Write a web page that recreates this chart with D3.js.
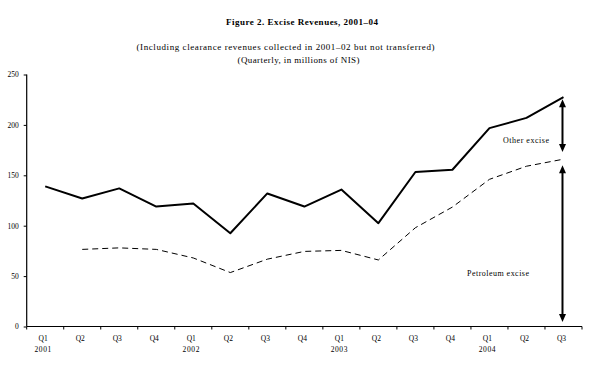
<!DOCTYPE html>
<html><head><meta charset="utf-8">
<script src="https://cdn.jsdelivr.net/npm/d3@7/dist/d3.min.js"></script>
<style>
body{margin:0;background:#fff;}
svg{display:block;font-family:"Liberation Serif","Times New Roman",serif;}
</style></head>
<body>
<svg id="c" width="600" height="373"></svg>
<script>
const quarters = ["Q1","Q2","Q3","Q4","Q1","Q2","Q3","Q4","Q1","Q2","Q3","Q4","Q1","Q2","Q3"];
const years = ["2001","","","","2002","","","","2003","","","","2004","",""];
const totalExcise = [139,127,137,119,122,92.5,132,119,135.8,102.5,153.3,155.5,196.8,207,227.5];
const petroleumExcise = [null,76.5,78,76.5,68,53.5,66.8,74.5,75.5,66,98,118.5,146,159,166];
const yTicks = [0,50,100,150,200,250];
const arrowSpans = [[225.5,173],[160,4.5]];
const seriesLabels = ["Other excise","Petroleum excise"];

const svg = d3.select("#c");
const idx = d3.range(quarters.length);
const x = d3.scaleBand().domain(idx).range([26.7,582]).padding(0);
const y = d3.scaleLinear().domain([0,250]).range([326.5,74.5]);
const cx = i => x(i) + x.bandwidth()/2;

// titles
svg.append("text").attr("x",302).attr("y",25).attr("text-anchor","middle")
  .attr("font-size",9).attr("font-weight","bold").attr("textLength",152)
  .text("Figure 2. Excise Revenues, 2001–04");
svg.append("text").attr("x",285.5).attr("y",49.5).attr("text-anchor","middle")
  .attr("font-size",9).attr("textLength",298)
  .text("(Including clearance revenues collected in 2001–02 but not transferred)");
svg.append("text").attr("x",298.5).attr("y",63).attr("text-anchor","middle")
  .attr("font-size",9).attr("textLength",122)
  .text("(Quarterly, in millions of NIS)");

// y axis
const ya = svg.append("g").attr("transform","translate(26.7,0)")
  .call(d3.axisLeft(y).tickValues(yTicks).tickSize(3).tickPadding(5).tickFormat(d3.format("d")));
ya.select(".domain").attr("stroke","#000").attr("stroke-width",1.2).attr("d",`M0,${y(250)}V${y(0)}`);
ya.selectAll(".tick line").attr("stroke","#000");
ya.selectAll(".tick text").attr("font-size",7.5).attr("font-family","Liberation Serif, serif").attr("fill","#000");

// x axis
svg.append("line").attr("x1",x.range()[0]).attr("x2",x.range()[1]).attr("y1",y(0)).attr("y2",y(0))
  .attr("stroke","#000").attr("stroke-width",1.2);
const bounds = idx.map(i=>x(i)).concat([x.range()[1]]);
svg.selectAll(".xt").data(bounds).join("line")
  .attr("x1",d=>d).attr("x2",d=>d).attr("y1",y(0)).attr("y2",y(0)+3)
  .attr("stroke","#000").attr("stroke-width",1);
svg.selectAll(".ql").data(idx).join("text")
  .attr("x",i=>cx(i)-2).attr("y",341).attr("text-anchor","middle")
  .attr("font-size",7.5).text(i=>quarters[i]);
svg.selectAll(".yl").data(idx.filter(i=>years[i])).join("text")
  .attr("x",i=>cx(i)-2).attr("y",352).attr("text-anchor","middle")
  .attr("font-size",7.5).attr("letter-spacing",0.6).text(i=>years[i]);

// lines
const line = d3.line().defined(d=>d[1]!=null).x(d=>cx(d[0])).y(d=>y(d[1]));
svg.append("path").datum(idx.map(i=>[i,totalExcise[i]]))
  .attr("d",line).attr("fill","none").attr("stroke","#000").attr("stroke-width",2)
  .attr("stroke-linejoin","round");
svg.append("path").datum(idx.map(i=>[i,petroleumExcise[i]]))
  .attr("d",line).attr("fill","none").attr("stroke","#000").attr("stroke-width",1)
  .attr("stroke-dasharray","6,4");

// arrows
const ax = cx(quarters.length-1) - 1;
arrowSpans.forEach(([top,bot])=>{
  const y1 = y(top), y2 = y(bot);
  svg.append("line").attr("x1",ax).attr("x2",ax).attr("y1",y1+5).attr("y2",y2-5)
    .attr("stroke","#000").attr("stroke-width",2);
  svg.append("path").attr("d",`M${ax},${y1}L${ax-3.5},${y1+8}L${ax+3.5},${y1+8}Z`).attr("fill","#000");
  svg.append("path").attr("d",`M${ax},${y2}L${ax-3.5},${y2-8}L${ax+3.5},${y2-8}Z`).attr("fill","#000");
});

svg.append("text").attr("x",526).attr("y",143).attr("text-anchor","middle")
  .attr("font-size",8).attr("textLength",46).text(seriesLabels[0]);
svg.append("text").attr("x",498).attr("y",276).attr("text-anchor","middle")
  .attr("font-size",8).attr("textLength",62).text(seriesLabels[1]);
</script>
</body></html>
